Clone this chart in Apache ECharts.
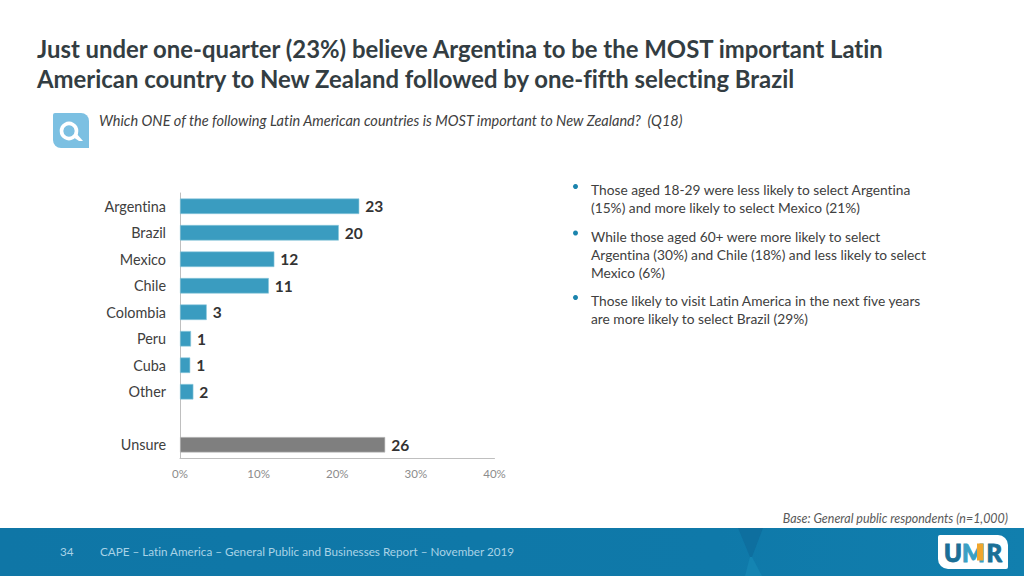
<!DOCTYPE html>
<html><head><meta charset="utf-8">
<style>html,body{margin:0;padding:0;background:#fff}#c{width:1024px;height:576px}#c text{font-variant-ligatures:none}</style>
<script src="https://cdn.jsdelivr.net/npm/echarts@6/dist/echarts.min.js"></script>
</head><body><div id="c"></div>
<script>
const categories = ['Argentina','Brazil','Mexico','Chile','Colombia','Peru','Cuba','Other','','Unsure'];
const values = [22.8,20.2,12,11.3,3.4,1.4,1.3,1.7,null,26.1];
const tickLabels = ['0%','10%','20%','30%','40%'];
const titleLines = ['Just under one-quarter (23%) believe Argentina to be the MOST important Latin','American country to New Zealand followed by one-fifth selecting Brazil'];
const question = 'Which ONE of the following Latin American countries is MOST important to New Zealand?  (Q18)';
const bullets = [
  ['Those aged 18-29 were less likely to select Argentina','(15%) and more likely to select Mexico (21%)'],
  ['While those aged 60+ were more likely to select','Argentina (30%) and Chile (18%) and less likely to select','Mexico (6%)'],
  ['Those likely to visit Latin America in the next five years','are more likely to select Brazil (29%)']
];
const baseNote = 'Base: General public respondents (n=1,000)';
const pageNo = '34';
const footerText = 'CAPE \u2013 Latin America \u2013 General Public and Businesses Report \u2013 November 2019';
const F = 'Lato, "Open Sans", sans-serif';
const g = [];
function txt(x,y,t,o){g.push({type:'text',x,y,silent:true,style:Object.assign({text:t,fontFamily:F,fontSize:14,fill:'#404040',textVerticalAlign:'middle'},o||{})});}
// footer
g.push({type:'rect',shape:{x:0,y:528,width:1024,height:48},silent:true,style:{fill:{type:'linear',x:0,y:0,x2:1,y2:0,colorStops:[{offset:0,color:'#0f76a6'},{offset:0.7,color:'#0f79a9'},{offset:1,color:'#117fae'}]}}});
g.push({type:'polygon',shape:{points:[[738,528],[763,528],[752,557],[750,557]]},silent:true,style:{fill:'#0e6f9f'}});
g.push({type:'polygon',shape:{points:[[750,557],[752,557],[762,576],[745,576]]},silent:true,style:{fill:'#1484b2'}});
// title
titleLines.forEach((t,i)=>txt(37,48+i*30.5,t,{fontSize:23.9,fontWeight:'bold',fill:'#333d42'}));
// question icon
g.push({type:'rect',shape:{x:53,y:113,width:36,height:35,r:[2,8,0,8]},silent:true,style:{fill:'#7cc0e2'}});
g.push({type:'circle',shape:{cx:69,cy:131,r:7.5},silent:true,style:{fill:'#7cc0e2',stroke:'#fff',lineWidth:3.6}});
g.push({type:'polygon',shape:{points:[[73,137],[76,133],[83,141],[79,141]]},silent:true,style:{fill:'#fff'}});
txt(99,120,question,{fontSize:14.5,fontStyle:'italic',fill:'#404040'});
// bullets
const by=[[189.5,207.5],[236,254,272],[300.5,318.5]];
bullets.forEach((ls,i)=>{
  g.push({type:'circle',shape:{cx:575.5,cy:by[i][0]-3,r:2.5},silent:true,style:{fill:'#1b84ad'}});
  ls.forEach((l,j)=>txt(591,by[i][j],l,{fontSize:13.75,fill:'#404040'}));
});
txt(1008,518.5,baseNote,{fontSize:12.45,fontStyle:'italic',fill:'#595959',textAlign:'right'});
txt(60,551,pageNo,{fontSize:11.7,fill:'#a9d3e6'});
txt(100,551,footerText,{fontSize:11.7,fill:'#a9d3e6'});
// logo
g.push({type:'rect',shape:{x:938,y:535,width:70,height:34,r:[2,10,2,10]},silent:true,style:{fill:'#fff'}});
const L={fontSize:24,fontWeight:900,stroke:'#1a6f96',lineWidth:0.9,fill:'#1a6f96'};
txt(944,552,'U',L);
txt(962,552,'M',Object.assign({},L,{fill:'#3aa0c4',stroke:'#3aa0c4'}));
g.push({type:'rect',shape:{x:977,y:543.5,width:6.5,height:17},silent:true,style:{fill:'#f0a62c'}});
txt(986.5,552,'R',L);

const chart = echarts.init(document.getElementById('c'),null,{renderer:'svg'});
chart.setOption({
  animation:false,
  backgroundColor:'#fff',
  grid:{left:180,top:193,width:314.5,height:265,containLabel:false},
  xAxis:{type:'value',min:0,max:40,interval:10,
    axisLine:{show:true,lineStyle:{color:'#bfbfbf',width:1}},axisTick:{show:false},splitLine:{show:false},
    axisLabel:{color:'#8c8c8c',fontFamily:F,fontSize:11.5,margin:9,formatter:(v)=>tickLabels[v/10]}},
  yAxis:{type:'category',inverse:true,data:categories,
    axisLine:{show:true,onZero:false,lineStyle:{color:'#bfbfbf',width:1}},axisTick:{show:false},
    axisLabel:{color:'#404040',fontFamily:F,fontSize:14.4,margin:14,padding:[0,0,2,0]}},
  series:[{type:'bar',barWidth:15.5,
    data:values.map((v,i)=>v==null?null:{value:v,itemStyle:{color:categories[i]==='Unsure'?'#7f7f7f':'#3a9cc0',borderColor:categories[i]==='Unsure'?'#c4c4c4':'#8cc8dc',borderWidth:0.6}}),
    label:{show:true,position:'right',distance:6,fontFamily:F,fontSize:15.5,fontWeight:'bold',color:'#333',formatter:(p)=>Math.round(p.value)}}],
  graphic:{elements:g}
});
</script></body></html>
